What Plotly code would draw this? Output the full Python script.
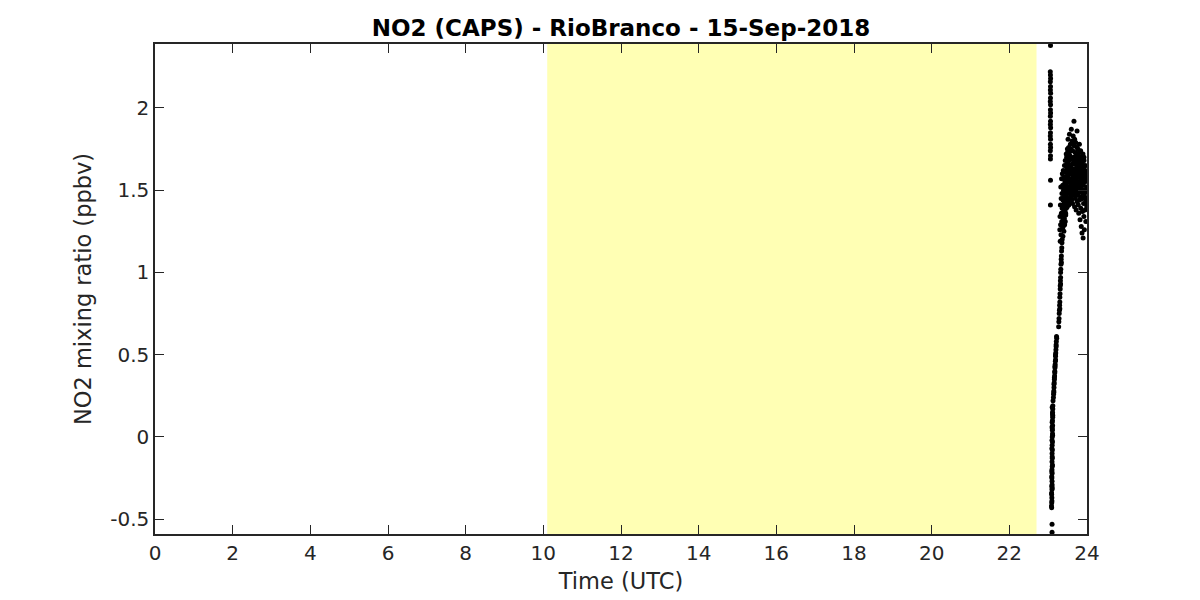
import plotly.graph_objects as go

# ---- data (Time in UTC hours, NO2 in ppbv) ----
# early high-valued column (instrument start)
t_a = [23.060, 23.055, 23.058, 23.062, 23.056, 23.060, 23.057, 23.063, 23.059, 23.055,
       23.061, 23.058, 23.062, 23.056, 23.060, 23.057, 23.063, 23.059, 23.055, 23.061,
       23.058, 23.062, 23.056, 23.060, 23.058, 23.060, 23.058]
v_a = [2.38, 2.22, 2.20, 2.18, 2.16, 2.13, 2.11, 2.09, 2.06, 2.04,
       2.02, 1.99, 1.97, 1.95, 1.92, 1.90, 1.88, 1.85, 1.83, 1.81,
       1.78, 1.76, 1.74, 1.71, 1.69, 1.56, 1.41]

# low column
t_b = [23.100, 23.100, 23.090, 23.092, 23.095, 23.090, 23.098, 23.093, 23.100, 23.095,
       23.102, 23.097, 23.104, 23.099, 23.106, 23.101, 23.108, 23.103, 23.110, 23.105,
       23.112, 23.107, 23.114, 23.110, 23.116, 23.112, 23.118, 23.120, 23.125,
       23.096, 23.101, 23.094, 23.104, 23.099, 23.108, 23.103, 23.112,
       23.085, 23.088, 23.105, 23.092, 23.110, 23.096, 23.114, 23.100, 23.118, 23.105]
v_b = [-0.58, -0.53, -0.43, -0.40, -0.37, -0.35, -0.32, -0.30, -0.27, -0.25,
       -0.22, -0.20, -0.18, -0.15, -0.13, -0.10, -0.08, -0.05, -0.03, 0.00,
       0.02, 0.05, 0.07, 0.10, 0.12, 0.14, 0.17, 0.19, 0.22,
       -0.39, -0.29, -0.21, -0.12, -0.02, 0.04, 0.09, 0.15,
       -0.42, -0.34, -0.31, -0.24, -0.17, -0.07, 0.01, 0.06, 0.13, 0.18]

# rising segment
t_c = [23.135, 23.140, 23.145, 23.150, 23.155, 23.160, 23.165, 23.170, 23.175, 23.180,
       23.185, 23.190, 23.195, 23.200, 23.205, 23.210, 23.215, 23.150, 23.170, 23.190,
       23.145, 23.160, 23.175, 23.190, 23.205, 23.220]
v_c = [0.24, 0.26, 0.28, 0.30, 0.33, 0.35, 0.37, 0.40, 0.42, 0.44,
       0.46, 0.49, 0.51, 0.53, 0.56, 0.58, 0.61, 0.32, 0.39, 0.47,
       0.27, 0.36, 0.43, 0.50, 0.55, 0.60]

t_d = [23.270, 23.275, 23.280, 23.285, 23.290, 23.295, 23.300, 23.300, 23.305, 23.310,
       23.310, 23.315, 23.320, 23.320, 23.325, 23.330, 23.335, 23.340, 23.345, 23.350,
       23.355, 23.360, 23.300, 23.320, 23.340]
v_d = [0.67, 0.70, 0.72, 0.75, 0.77, 0.80, 0.82, 0.85, 0.87, 0.90,
       0.92, 0.95, 0.97, 1.00, 1.02, 1.05, 1.08, 1.10, 1.13, 1.15,
       1.18, 1.20, 0.78, 0.93, 1.06]

# plateau
t_e = [23.380, 23.384, 23.388, 23.392, 23.396, 23.400, 23.404, 23.408, 23.412, 23.416,
       23.420, 23.424, 23.428, 23.432, 23.436, 23.440, 23.444, 23.448, 23.452, 23.456,
       23.460, 23.464, 23.468, 23.472, 23.476, 23.480, 23.484, 23.488, 23.492, 23.496,
       23.500, 23.504, 23.508, 23.512, 23.516, 23.520, 23.524, 23.528, 23.532, 23.536,
       23.540, 23.544, 23.548, 23.552, 23.556, 23.560, 23.564, 23.568, 23.572, 23.576,
       23.580, 23.584, 23.588, 23.592, 23.596, 23.600, 23.604, 23.608, 23.612, 23.616,
       23.620, 23.624, 23.628, 23.632, 23.636, 23.640, 23.644, 23.648, 23.652, 23.656,
       23.660, 23.664, 23.668, 23.672, 23.676, 23.680, 23.684, 23.688, 23.692, 23.696,
       23.700, 23.704, 23.708, 23.712, 23.716, 23.720, 23.724, 23.728, 23.732, 23.736,
       23.740, 23.744, 23.748, 23.752, 23.756, 23.760, 23.764, 23.768, 23.772, 23.776,
       23.780, 23.784, 23.788, 23.792, 23.796, 23.800, 23.804, 23.808, 23.812, 23.816,
       23.820, 23.824, 23.828, 23.832, 23.836, 23.840, 23.844, 23.848, 23.852, 23.856,
       23.860, 23.864, 23.868, 23.872, 23.876, 23.880, 23.884, 23.888, 23.892, 23.896,
       23.900, 23.904, 23.908, 23.912, 23.916, 23.920, 23.924, 23.928, 23.932, 23.936,
       23.940, 23.946, 23.952, 23.958, 23.964, 23.970, 23.976, 23.982, 23.988, 23.994,
       23.999]
v_e = [1.22, 1.35, 1.28, 1.41, 1.30, 1.46, 1.25, 1.38, 1.50, 1.33,
       1.44, 1.29, 1.52, 1.37, 1.48, 1.31, 1.56, 1.42, 1.35, 1.58,
       1.47, 1.62, 1.39, 1.55, 1.70, 1.44, 1.51, 1.66, 1.40, 1.59,
       1.73, 1.48, 1.57, 1.81, 1.45, 1.63, 1.52, 1.76, 1.41, 1.60,
       1.68, 1.50, 1.84, 1.55, 1.43, 1.71, 1.62, 1.49, 1.78, 1.57,
       1.64, 1.46, 1.75, 1.53, 1.87, 1.60, 1.44, 1.69, 1.56, 1.80,
       1.51, 1.66, 1.42, 1.74, 1.58, 1.49, 1.83, 1.61, 1.54, 1.70,
       1.47, 1.92, 1.63, 1.52, 1.77, 1.40, 1.59, 1.68, 1.55, 1.73,
       1.45, 1.61, 1.79, 1.50, 1.66, 1.38, 1.57, 1.72, 1.48, 1.64,
       1.54, 1.86, 1.43, 1.69, 1.58, 1.47, 1.75, 1.52, 1.63, 1.41,
       1.60, 1.71, 1.36, 1.55, 1.67, 1.49, 1.78, 1.44, 1.62, 1.53,
       1.32, 1.58, 1.68, 1.46, 1.74, 1.39, 1.56, 1.64, 1.28, 1.51,
       1.61, 1.45, 1.70, 1.24, 1.55, 1.66, 1.37, 1.59, 1.48, 1.72,
       1.21, 1.53, 1.63, 1.42, 1.57, 1.34, 1.68, 1.50, 1.26, 1.60,
       1.46, 1.55, 1.38, 1.62, 1.49, 1.31, 1.58, 1.44, 1.52, 1.40,
       1.50]

# extra scatter inside the plateau cloud
t_f = [23.300, 23.305, 23.310, 23.315, 23.320, 23.325, 23.330, 23.335, 23.340, 23.345,
       23.350, 23.355, 23.360, 23.365, 23.370, 23.375, 23.380, 23.385, 23.390, 23.395,
       23.400, 23.405, 23.410, 23.415, 23.420, 23.425, 23.430, 23.435, 23.440, 23.445,
       23.450, 23.455, 23.460, 23.465, 23.470, 23.475, 23.480, 23.485, 23.490, 23.495,
       23.502, 23.514, 23.526, 23.538, 23.550, 23.562, 23.574, 23.586, 23.598, 23.610,
       23.622, 23.634, 23.646, 23.658, 23.670, 23.682, 23.694, 23.706, 23.718, 23.730,
       23.742, 23.754, 23.766, 23.778, 23.790, 23.802, 23.814, 23.826, 23.838, 23.850,
       23.862, 23.874, 23.886, 23.898, 23.910, 23.922, 23.934, 23.946, 23.958, 23.970,
       23.982, 23.994]
v_f = [1.26, 1.34, 1.19, 1.41, 1.29, 1.52, 1.23, 1.45, 1.36, 1.57,
       1.31, 1.48, 1.39, 1.60, 1.27, 1.53, 1.44, 1.33, 1.62, 1.50,
       1.37, 1.58, 1.43, 1.30, 1.65, 1.47, 1.55, 1.40, 1.68, 1.51,
       1.36, 1.61, 1.46, 1.72, 1.54, 1.42, 1.64, 1.57, 1.49, 1.75,
       1.58, 1.66, 1.52, 1.72, 1.61, 1.55, 1.69, 1.47, 1.74, 1.63,
       1.57, 1.78, 1.53, 1.67, 1.60, 1.81, 1.50, 1.70, 1.62, 1.56,
       1.76, 1.65, 1.51, 1.69, 1.58, 1.73, 1.54, 1.66, 1.49, 1.61,
       1.57, 1.67, 1.45, 1.63, 1.55, 1.70, 1.48, 1.59, 1.65, 1.42,
       1.56, 1.61]

# shaded period (UTC hours)
shade_start = 10.10
shade_end = 22.70

x_ticks = [0, 2, 4, 6, 8, 10, 12, 14, 16, 18, 20, 22, 24]
y_ticks = [-0.5, 0, 0.5, 1, 1.5, 2]
y_tick_text = ["-0.5", "0", "0.5", "1", "1.5", "2"]

title = "NO2 (CAPS) - RioBranco - 15-Sep-2018"
x_label = "Time (UTC)"
y_label = "NO2 mixing ratio (ppbv)"

# ---- figure ----
t_all = t_a + t_b + t_c + t_d + t_e + t_f
v_all = v_a + v_b + v_c + v_d + v_e + v_f

ink = "#262626"
fig = go.Figure()
fig.add_trace(go.Scatter(
    x=t_all, y=v_all, mode="markers",
    marker=dict(color="black", size=5, line=dict(width=0)),
    showlegend=False,
))

fig.add_shape(type="rect", xref="x", yref="paper",
              x0=shade_start, x1=shade_end, y0=0, y1=1,
              fillcolor="#FFFFB4", line=dict(width=0), layer="below")

# page body adds an 8px offset; margins compensate so the axes box
# sits at x 155..1087, y 44..534 in the 1200x600 window
fig.update_layout(
    width=1200, height=600,
    margin=dict(l=147, r=121, t=36, b=74),
    paper_bgcolor="white", plot_bgcolor="white",
    font=dict(family="DejaVu Sans", size=20, color=ink),
    title=dict(text="<b>" + title + "</b>", x=(621 - 8) / 1200, xanchor="center",
               y=1 - (28 - 8) / 600, yanchor="middle",
               font=dict(family="DejaVu Sans", size=23, color="black")),
)
fig.update_xaxes(
    range=[0, 24], tickvals=x_ticks, ticktext=[str(v) for v in x_ticks],
    ticks="inside", ticklen=9, tickwidth=1, tickcolor=ink,
    showline=True, linecolor=ink, linewidth=1.5, mirror="ticks",
    showgrid=False, zeroline=False,
    title=dict(text=x_label, font=dict(size=22.5), standoff=9),
    tickfont=dict(size=20),
)
fig.update_yaxes(
    range=[-0.59, 2.389], tickvals=y_ticks, ticktext=y_tick_text,
    ticks="inside", ticklen=9, tickwidth=1, tickcolor=ink,
    showline=True, linecolor=ink, linewidth=1.5, mirror="ticks",
    showgrid=False, zeroline=False,
    title=dict(text=y_label, font=dict(size=22.5), standoff=12),
    tickfont=dict(size=20),
)

fig.write_html("out.html")
